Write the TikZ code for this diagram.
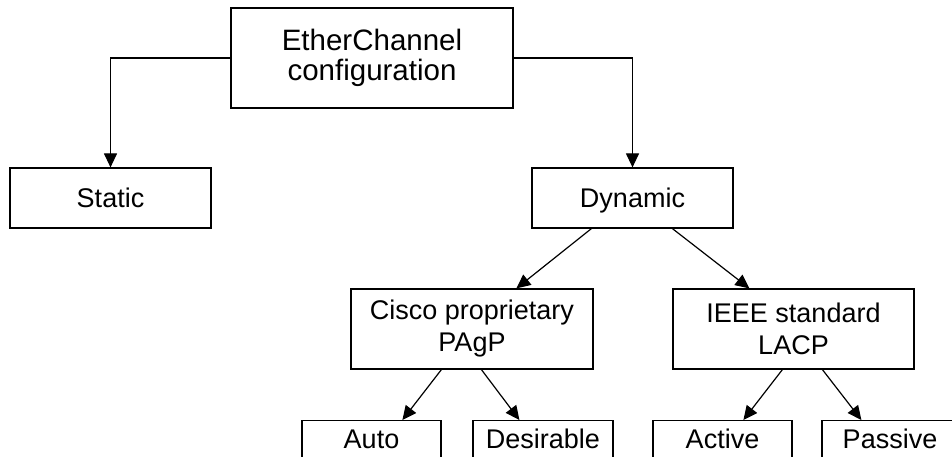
\documentclass[tikz,border=0pt]{standalone}
\usepackage{fontspec}
\setmainfont{Liberation Sans}
\usetikzlibrary{arrows.meta}
\tikzset{
  box/.style={draw=black, line width=1.2pt, inner sep=0pt, align=center, text=black,
    font=\fontsize{27}{32}\selectfont},
  single/.style={box, text height=19.3pt, text depth=0pt},
  leaf/.style={box, anchor=north, inner ysep=9pt, text height=19pt, text depth=50pt},
  conn/.style={draw=black, line width=1.2pt, -{Triangle[length=14pt,width=13pt]}}
}
\begin{document}
\begin{tikzpicture}[x=1pt,y=-1pt]
\useasboundingbox (0,0) rectangle (952,457);
\clip (0,0) rectangle (952,457);
\fill[white] (0,0) rectangle (952,457);
\node[box, minimum width=282pt, minimum height=100pt, font=\fontsize{29.5}{30.5}\selectfont] (top) at (372,58) {EtherChannel\\configuration};
\node[single, minimum width=201pt, minimum height=60pt] (static) at (110.5,198) {Static};
\node[single, minimum width=201pt, minimum height=60pt] (dyn) at (632.5,198) {Dynamic};
\node[box, minimum width=242pt, minimum height=80pt] (cisco) at (472,329) {Cisco proprietary\\PAgP};
\node[box, minimum width=241pt, minimum height=80pt] (ieee) at (793.5,329) {IEEE standard\\LACP};
\node[leaf, minimum width=139pt] (auto) at (371.5,420) {Auto};
\node[leaf, minimum width=140pt] (des) at (543,420) {Desirable};
\node[leaf, minimum width=139pt] (act) at (722.5,420) {Active};
\node[leaf, minimum width=136pt] (pas) at (890,420) {Passive};
\draw[conn] (top.west) -| (static.north);
\draw[conn] (top.east) -| (dyn.north);
\draw[conn] ([xshift=60pt]dyn.south west) -- ([xshift=166pt]cisco.north west);
\draw[conn] ([xshift=141pt]dyn.south west) -- ([xshift=77pt]ieee.north west);
\draw[conn] ([xshift=91pt]cisco.south west) -- ([xshift=101pt]auto.north west);
\draw[conn] ([xshift=131pt]cisco.south west) -- ([xshift=47pt]des.north west);
\draw[conn] ([xshift=110pt]ieee.south west) -- ([xshift=91pt]act.north west);
\draw[conn] ([xshift=150pt]ieee.south west) -- ([xshift=40pt]pas.north west);
\end{tikzpicture}
\end{document}
